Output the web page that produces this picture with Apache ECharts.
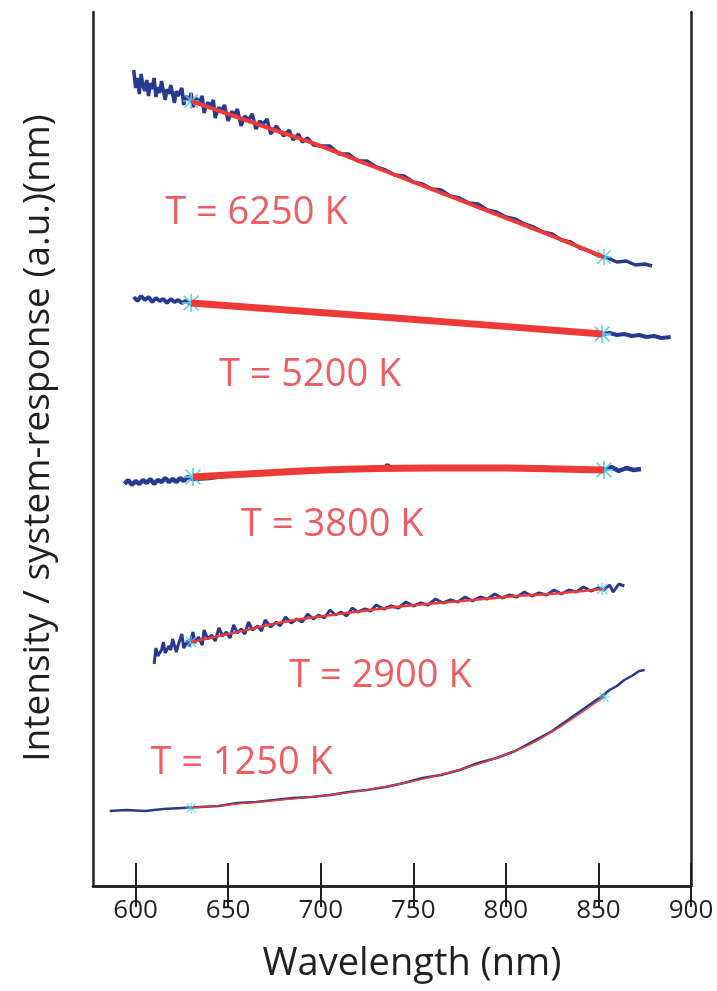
<!DOCTYPE html>
<html>
<head>
<meta charset="utf-8">
<title>Intensity / system-response</title>
<script src="https://cdn.jsdelivr.net/npm/echarts@6/dist/echarts.min.js"></script>
<style>
  html, body { margin: 0; padding: 0; background: #fff; }
  #chart { width: 717px; height: 991px; }
</style>
</head>
<body>
<div id="chart"></div>
<script>
// wavelength ticks (nm)
var wavelengthTicks = [600, 650, 700, 750, 800, 850, 900]

// measured spectra [wavelength nm, intensity a.u.]
var trace6250 = [[599,816],[600,798],[601,808],[602,792],[603,812],[604,800],[605,795],[606,806],[607,790],[608,803],[609,797],[610,808],[611,789],[612,799],[613,793],[614,805],[616,786],[617,797],[618,792],[619,801],[621,783],[622,795],[623,790],[625,798],[626,781],[627,790],[629,786],[630,793],[631,779],[633,788],[634,782],[636,790],[637,773],[639,784],[640,778],[642,786],[643,768],[645,779],[646,774],[648,781],[650,765],[652,775],[653,770],[655,777],[657,760],[659,770],[661,766],[663,772],[665,757],[667,765],[669,762],[671,767],[673,752],[676,760],[678,755],[680,750],[683,756],[685,746],[688,752],[690,744],[693,748],[696,741],[700,740],[705,740],[710,732],[715,732],[720,725],[725,725],[730,719],[735,716],[740,711],[745,710],[750,704],[755,702],[760,697],[765,696],[770,690],[775,688],[780,683],[785,682],[790,676],[795,674],[800,669],[805,667],[810,662],[815,659],[820,654],[825,652],[830,646],[835,644],[840,638],[845,635],[850,630],[855,628],[860,624],[865,625],[870,621],[875,622],[879,620]]
var trace5200 = [[599,589],[601,585],[603,590],[605,586],[607,589],[609,584],[611,588],[613,585],[615,587],[617,583],[619,587],[621,584],[623,586],[625,583],[627,585],[630,582],[640,582],[650,579],[660,580],[670,577],[680,576],[690,575],[700,573],[720,570],[740,567],[760,565],[780,562],[800,560],[820,557],[840,554],[852,552],[856,553],[860,551],[864,552],[868,550],[872,551],[876,549],[880,550],[884,548],[889,549]]
var trace3800 = [[594,402],[596,406],[598,401],[600,405],[602,402],[604,406],[606,403],[608,407],[610,402],[612,406],[614,404],[616,408],[618,404],[620,407],[622,404],[624,408],[626,405],[628,409],[631,407],[640,408],[650,411],[670,413],[690,415],[710,416],[734,417],[736,421],[738,417],[780,418],[820,418],[853,416],[857,419],[861,415],[865,418],[869,416],[873,417]]
var trace2900 = [[610,222],[611,238],[612,230],[614,236],[615,244],[616,233],[618,240],[619,236],[620,247],[622,234],[623,241],[625,252],[626,238],[628,245],[629,240],[631,254],[632,243],[634,249],[636,241],[637,256],[639,247],[641,251],[643,245],[645,258],[647,250],[649,254],[651,248],[653,261],[655,253],[657,257],[659,252],[661,264],[663,256],[666,260],[668,255],[670,266],[673,259],[676,264],[678,260],[681,269],[684,263],[687,267],[690,264],[693,272],[696,267],[699,271],[702,268],[705,276],[708,271],[711,274],[714,270],[717,278],[720,274],[724,277],[727,275],[730,281],[734,277],[738,280],[742,278],[746,284],[750,280],[754,283],[758,281],[762,287],[766,283],[770,286],[774,284],[778,289],[782,285],[786,289],[790,287],[794,292],[798,288],[802,291],[806,289],[810,294],[814,290],[818,293],[822,291],[826,296],[830,292],[834,296],[838,294],[842,299],[846,295],[850,298],[853,296],[856,301],[858,294],[861,302],[864,300]]
var trace1250 = [[586,75],[595,76],[605,75],[615,77],[625,78],[635,79],[645,80],[655,83],[665,84],[675,86],[685,88],[695,89],[705,91],[715,94],[725,96],[735,99],[745,103],[755,108],[765,111],[775,116],[785,123],[795,128],[805,135],[815,145],[825,155],[835,168],[845,181],[852,190],[856,196],[860,200],[864,206],[868,210],[872,215],[875,216]]

// Planck fits
var fit6250 = [[630,785],[650,772],[675,756],[700,740],[725,722],[750,704],[775,686],[800,668],[825,650],[853,629]]
var fit5200 = [[630,583],[740,568],[852,552]]
var fit3800 = [[631,409],[660,412],[690,415],[720,417],[760,418],[800,418],[830,417],[853,416]]
var fit2900 = [[630,244],[650,252],[680,264],[710,272],[740,279],[770,284],[800,289],[830,293],[852,297]]
var fit1250 = [[630,78],[660,83],[700,90],[740,101],[780,119],[810,139],[830,160],[853,189]]

// fit range end points
var ends6250 = [[630,785],[853,629]]
var ends5200 = [[630,583],[852,552]]
var ends3800 = [[631,409],[853,416]]
var ends2900 = [[630,244],[852,297]]
var ends1250 = [[630,78],[853,189]]

// temperature labels [wavelength, intensity, text]
var tempLabels = [
  [616, 673, 'T = 6250 K'],
  [645, 511, 'T = 5200 K'],
  [657, 361, 'T = 3800 K'],
  [683, 210, 'T = 2900 K'],
  [608, 123, 'T = 1250 K']
]

var FONT = '"Open Sans", "Noto Sans", sans-serif'
var BLUE = '#283a8f'
var RED = '#ee3a37'
var CYAN = '#5fcbe6'
var AXIS = '#231f20'

// asterisk marker
var STAR = 'path://M0,9L20,9L20,11L0,11Z M9,0L11,0L11,20L9,20Z M1,2.4L2.4,1L19,17.6L17.6,19Z M17.6,1L19,2.4L2.4,19L1,17.6Z'

function traceSeries(data, width) {
  return {
    type: 'line', data: data, showSymbol: false, silent: true, z: 2,
    lineStyle: { color: BLUE, width: width }
  }
}
function fitSeries(data, width) {
  return {
    type: 'line', data: data, showSymbol: false, silent: true, z: 4,
    smooth: 0.3,
    lineStyle: { color: RED, width: width }
  }
}
function endSeries(data, size) {
  return {
    type: 'scatter', data: data, symbol: STAR, symbolSize: size, silent: true, z: 3,
    itemStyle: { color: CYAN, opacity: 0.9 }
  }
}

var chart = echarts.init(document.getElementById('chart'))
chart.setOption({
  animation: false,
  backgroundColor: '#fff',
  grid: { left: 93, right: 26, top: 12, bottom: 105 },
  xAxis: [{
    type: 'value', min: 577, max: 900, position: 'bottom',
    axisLine: { lineStyle: { color: AXIS, width: 2.5 } },
    axisTick: { inside: true, length: 23, lineStyle: { color: AXIS, width: 2 }, customValues: wavelengthTicks },
    axisLabel: { fontFamily: FONT, fontSize: 26, color: AXIS, margin: 12, customValues: wavelengthTicks, showMaxLabel: true },
    splitLine: { show: false }
  }, {
    type: 'value', min: 577, max: 900, position: 'top',
    axisLine: { lineStyle: { color: AXIS, width: 2.5 } },
    axisTick: { inside: true, length: 21, lineStyle: { color: AXIS, width: 2 }, customValues: wavelengthTicks },
    axisLabel: { show: false },
    splitLine: { show: false }
  }],
  yAxis: [{
    type: 'value', min: 0, max: 874, position: 'left',
    axisLine: { show: true, lineStyle: { color: AXIS, width: 2.5 } },
    axisTick: { show: false }, axisLabel: { show: false }, splitLine: { show: false }
  }, {
    type: 'value', min: 0, max: 874, position: 'right',
    axisLine: { show: true, lineStyle: { color: AXIS, width: 2.5 } },
    axisTick: { show: false }, axisLabel: { show: false }, splitLine: { show: false }
  }],
  // axis titles
  graphic: [{
    type: 'text', x: 38, y: 438, rotation: Math.PI / 2,
    style: {
      text: 'Intensity / system-response (a.u.)(nm)',
      font: '37px ' + FONT, fill: AXIS, align: 'center', verticalAlign: 'middle'
    }
  }, {
    type: 'text', x: 412, y: 964,
    style: {
      text: 'Wavelength (nm)',
      font: '38px ' + FONT, fill: AXIS, align: 'center', verticalAlign: 'middle'
    }
  }],
  series: [
    traceSeries(trace6250, 3.5),
    traceSeries(trace5200, 4),
    traceSeries(trace3800, 4.5),
    traceSeries(trace2900, 3),
    traceSeries(trace1250, 2.5),
    endSeries(ends6250, 16),
    endSeries(ends5200, 18),
    endSeries(ends3800, 18),
    endSeries(ends2900, 12),
    endSeries(ends1250, 11),
    fitSeries(fit6250, 4),
    fitSeries(fit5200, 7),
    fitSeries(fit3800, 7),
    fitSeries(fit2900, 2.5),
    fitSeries(fit1250, 1.5),
    {
      type: 'scatter', silent: true, z: 5, symbolSize: 0,
      data: tempLabels.map(function (d) { return { value: [d[0], d[1]], name: d[2] } }),
      label: {
        show: true, position: 'right', distance: 0, formatter: '{b}',
        fontFamily: FONT, fontSize: 38, color: '#ec3339'
      }
    }
  ]
})
</script>
</body>
</html>
